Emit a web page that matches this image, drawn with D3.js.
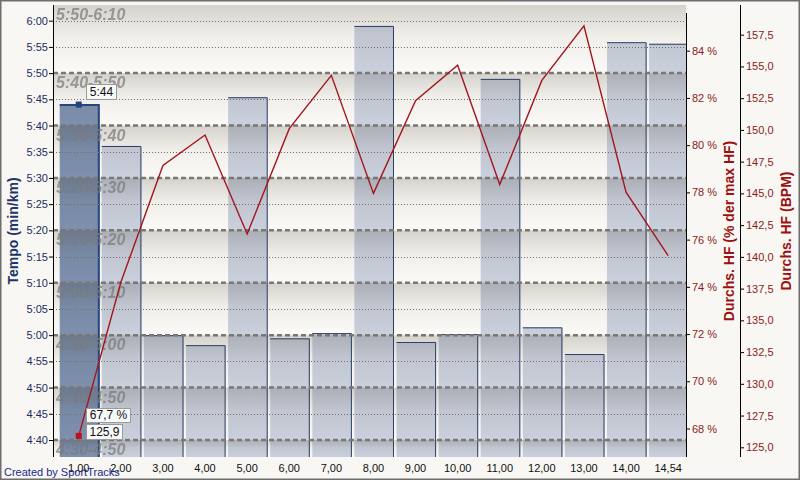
<!DOCTYPE html>
<html><head><meta charset="utf-8">
<script src="https://cdn.jsdelivr.net/npm/d3@7"></script>
<style>
html,body{margin:0;padding:0;background:#f8f7f3;}
svg{display:block;font-family:"Liberation Sans",Arial,sans-serif;}
</style></head><body>
<svg id="chart" width="800" height="480"></svg>
<script>
// ---- data ----
const categories = ["1,00","2,00","3,00","4,00","5,00","6,00","7,00","8,00","9,00","10,00","11,00","12,00","13,00","14,00","14,54"];
const paceSec = [344, 336.1, 300.0, 298.1, 345.4, 299.4, 300.4, 359.0, 298.7, 300.2, 348.9, 301.5, 296.4, 355.9, 355.6];
const hrBpm = [125.9, 138.0, 147.2, 149.6, 141.8, 150.1, 154.3, 145.0, 152.3, 155.1, 145.7, 153.9, 158.2, 145.1, 140.1];
const maxHr = 186;
const paceTicks = [280,285,290,295,300,305,310,315,320,325,330,335,340,345,350,355,360];
const zoneBounds = [350,340,330,320,310,300,290,280];
const zoneLabels = ["5:50-6:10","5:40-5:50","5:30-5:40","5:20-5:30","5:10-5:20","5:00-5:10","4:50-5:00","4:40-4:50","4:30-4:50"];
const pctTicks = [68,70,72,74,76,78,80,82,84];
const bpmTicks = [125,127.5,130,132.5,135,137.5,140,142.5,145,147.5,150,152.5,155,157.5];
const selectedIndex = 0;
const tipPace = "5:44", tipPct = "67,7 %", tipBpm = "125,9";

// ---- layout ----
const plot = {left:53, right:686, top:5, bottom:457};
const svg = d3.select("#chart");
const defs = svg.append("defs");
const g = defs.append("linearGradient").attr("id","band").attr("x1",0).attr("y1",0).attr("x2",0).attr("y2",1);
g.append("stop").attr("offset","0").attr("stop-color","#d5d2cc");
g.append("stop").attr("offset","0.45").attr("stop-color","#f0eee9");
g.append("stop").attr("offset","1").attr("stop-color","#fbfaf7");
defs.append("clipPath").attr("id","clip").append("rect")
  .attr("x",plot.left).attr("y",plot.top).attr("width",plot.right-plot.left).attr("height",plot.bottom-plot.top);

// outer frame
svg.append("rect").attr("x",0).attr("y",0).attr("width",800).attr("height",480).attr("fill","#f8f7f3");
svg.append("rect").attr("x",0.75).attr("y",0.75).attr("width",798.5).attr("height",478.5)
  .attr("fill","none").attr("stroke","#6e6e6e").attr("stroke-width",1.5);

const y = d3.scaleLinear().domain([280,360]).range([440,20.7]);
const yBpm = d3.scaleLinear().domain([125,157.5]).range([447.3,34.7]);
const yPct = d3.scaleLinear().domain([125/maxHr*100,157.5/maxHr*100]).range([447.3,34.7]);
const x = d3.scaleBand().domain(categories).range([57.7,689.2]).padding(0);
const step = x.step();
const cx = c => x(c) + step/2;
const fmtPace = s => Math.floor(s/60) + ":" + String(Math.round(s%60)).padStart(2,"0");

const pg = svg.append("g").attr("clip-path","url(#clip)");

// zone bands
const edges = [y.invert(plot.top), ...zoneBounds, y.invert(plot.bottom)];
pg.selectAll("rect.band").data(d3.pairs(edges)).join("rect").attr("class","band")
  .attr("x",plot.left).attr("width",plot.right-plot.left)
  .attr("y",d=>y(d[0])).attr("height",d=>y(d[1])-y(d[0]))
  .attr("fill","url(#band)");

// bars
const bars = pg.append("g");
bars.selectAll("rect").data(paceSec).join("rect")
  .attr("x",(d,i)=>x(categories[i])+2)
  .attr("y",d=>y(d))
  .attr("width",step-2.5)
  .attr("height",d=>plot.bottom-y(d))
  .attr("fill",(d,i)=>i===selectedIndex?"#8093b4":"#cdd4e4")
  .style("mix-blend-mode","multiply");
bars.selectAll("path").data(paceSec).join("path")
  .attr("d",(d,i)=>{const x0=x(categories[i]); return `M${x0+2},${y(d)+0.5}H${x0+step-1}V${plot.bottom}`;})
  .attr("fill","none").attr("stroke",(d,i)=>i===selectedIndex?"#27457e":"#2b3f68")
  .attr("stroke-width",(d,i)=>i===selectedIndex?2:1);

// grid lines
pg.selectAll("line.dot").data(paceTicks.filter(t=>!zoneBounds.includes(t))).join("line").attr("class","dot")
  .attr("x1",plot.left).attr("x2",plot.right).attr("y1",d=>Math.round(y(d))+0.5).attr("y2",d=>Math.round(y(d))+0.5)
  .attr("stroke","#6f6f6f").attr("stroke-width",1).attr("stroke-dasharray","1,2");
pg.selectAll("line.dash").data(zoneBounds).join("line").attr("class","dash")
  .attr("x1",plot.left).attr("x2",plot.right).attr("y1",d=>y(d)).attr("y2",d=>y(d))
  .attr("stroke","#7a7774").attr("stroke-width",2.5).attr("stroke-dasharray","5,3");

// zone labels
const labelY = [null, ...zoneBounds];
pg.selectAll("text.zone").data(zoneLabels).join("text").attr("class","zone")
  .attr("x",56).attr("y",(d,i)=> i===0 ? plot.top+14.5 : y(labelY[i])+15)
  .attr("font-size",16).attr("font-weight","bold").attr("font-style","italic")
  .attr("fill","#7a7a7a").attr("fill-opacity",0.72).text(d=>d);

// HR line
const line = d3.line().x((d,i)=>cx(categories[i])).y(d=>yBpm(d));
pg.append("path").datum(hrBpm).attr("d",line).attr("fill","none")
  .attr("stroke","#a3161e").attr("stroke-width",1.4);

// axes
const navy = "#1e2d5c", dred = "#8a1c1c";
const la = svg.append("g").attr("transform",`translate(${plot.left},0)`)
  .call(d3.axisLeft(y).tickValues(paceTicks).tickFormat(fmtPace).tickSize(4).tickSizeOuter(0));
la.select(".domain").remove();
la.selectAll("text").attr("fill",navy).attr("font-size",11).attr("font-family","Liberation Sans, Arial").attr("x",-5);
la.selectAll("line").attr("stroke","#000");
svg.append("line").attr("x1",plot.left+0.5).attr("x2",plot.left+0.5).attr("y1",plot.top).attr("y2",plot.bottom).attr("stroke","#000");

const ra = svg.append("g").attr("transform",`translate(${plot.right},0)`)
  .call(d3.axisRight(yPct).tickValues(pctTicks).tickFormat(d=>d+" %").tickSize(4).tickSizeOuter(0));
ra.select(".domain").remove();
ra.selectAll("text").attr("fill",dred).attr("font-size",11).attr("font-family","Liberation Sans, Arial").attr("x",6);
ra.selectAll("line").attr("stroke","#000");
svg.append("line").attr("x1",plot.right+0.5).attr("x2",plot.right+0.5).attr("y1",plot.top+8).attr("y2",plot.bottom).attr("stroke","#000");

const ba = svg.append("g").attr("transform",`translate(740,0)`)
  .call(d3.axisRight(yBpm).tickValues(bpmTicks).tickFormat(d=>d3.format(".1f")(d).replace(".",",")).tickSize(4).tickSizeOuter(0));
ba.select(".domain").remove();
ba.selectAll("text").attr("fill",dred).attr("font-size",11).attr("font-family","Liberation Sans, Arial").attr("x",6);
ba.selectAll("line").attr("stroke","#000");
svg.append("line").attr("x1",740.5).attr("x2",740.5).attr("y1",plot.top).attr("y2",plot.bottom).attr("stroke","#000");

// bottom labels
svg.append("g").selectAll("text").data(categories).join("text")
  .attr("x",d=>cx(d)).attr("y",472).attr("text-anchor","middle")
  .attr("font-size",11).attr("fill","#111").text(d=>d);

// titles
const midY = (plot.top+plot.bottom)/2;
svg.append("text").attr("transform",`translate(18,${midY}) rotate(-90)`).attr("text-anchor","middle")
  .attr("font-size",14).attr("font-weight","bold").attr("fill","#1f3469").text("Tempo (min/km)");
svg.append("text").attr("transform",`translate(734,${midY}) rotate(-90)`).attr("text-anchor","middle")
  .attr("font-size",14).attr("font-weight","bold").attr("fill","#9b1010").text("Durchs. HF (% der max HF)");
svg.append("text").attr("transform",`translate(791,${midY}) rotate(-90)`).attr("text-anchor","middle")
  .attr("font-size",14).attr("font-weight","bold").attr("fill","#9b1010").text("Durchs. HF (BPM)");

// credit
svg.append("text").attr("x",4).attr("y",476).attr("font-size",11).attr("fill","#1a2a8a").text("Created by SportTracks");

// markers & tooltips
const sx = cx(categories[selectedIndex]);
svg.append("rect").attr("x",sx-3).attr("y",y(paceSec[selectedIndex])-3).attr("width",6).attr("height",6).attr("fill","#24407a");
svg.append("rect").attr("x",sx-3).attr("y",yBpm(hrBpm[selectedIndex])-3).attr("width",6).attr("height",6).attr("fill","#c0101a");
function tip(x0,y0,w,h,t){
  svg.append("rect").attr("x",x0+0.5).attr("y",y0+0.5).attr("width",w).attr("height",h)
    .attr("fill","#f7f8f8").attr("stroke","#9a9a9a");
  svg.append("text").attr("x",x0+0.5+w/2).attr("y",y0+h-3.5).attr("text-anchor","middle")
    .attr("font-size",12).attr("fill","#111").text(t);
}
tip(86,84,30,15,tipPace);
tip(86,408,44,14,tipPct);
tip(86,424,36,15,tipBpm);
</script>
</body></html>
